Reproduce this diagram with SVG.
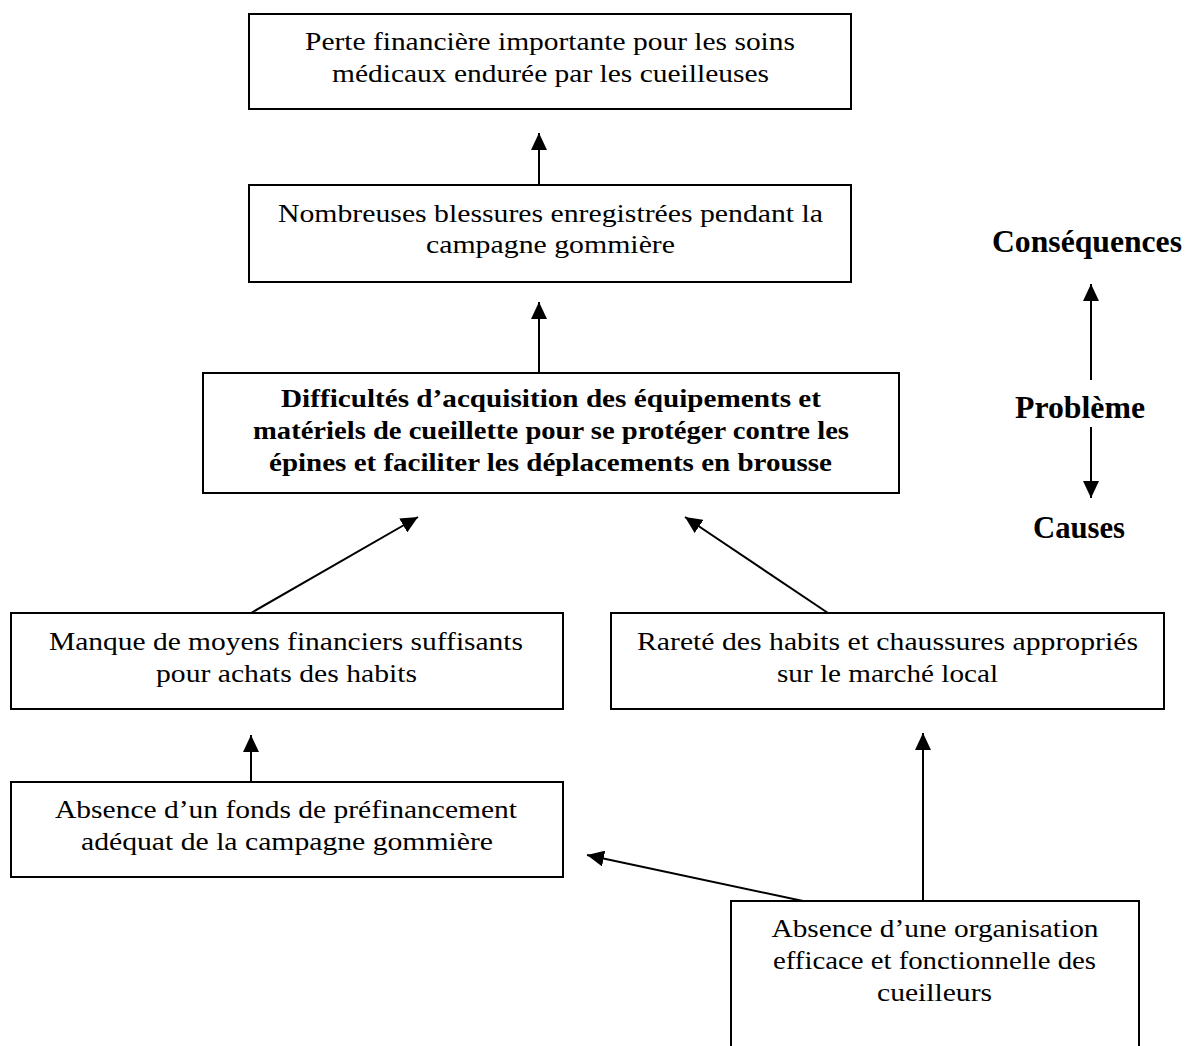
<svg xmlns="http://www.w3.org/2000/svg" width="1185" height="1046" viewBox="0 0 1185 1046">
<defs>
<style>
.box{fill:#fff;stroke:#000;stroke-width:2}
.t{font-family:"Liberation Serif","Times New Roman",serif;font-size:25px;fill:#000;text-anchor:middle}
.b{font-weight:bold}
.lbl{font-family:"Liberation Serif","Times New Roman",serif;font-size:31.5px;font-weight:bold;fill:#000;text-anchor:middle}
.c{stroke:#000;stroke-width:2;fill:none;marker-end:url(#ah)}
</style>
<marker id="ah" markerUnits="userSpaceOnUse" markerWidth="18" markerHeight="16" refX="17" refY="8" orient="auto">
<path d="M0,0 L17,8 L0,16 Z" fill="#000"/>
</marker>
</defs>
<rect width="1185" height="1046" fill="#fff"/>

<g id="connectors">
<line class="c" x1="539" y1="185" x2="539" y2="133"/>
<line class="c" x1="539" y1="373" x2="539" y2="302"/>
<line class="c" x1="251" y1="613" x2="418" y2="517"/>
<line class="c" x1="828" y1="613" x2="685" y2="517"/>
<line class="c" x1="251" y1="782" x2="251" y2="735"/>
<line class="c" x1="803" y1="901" x2="587" y2="855"/>
<line class="c" x1="923" y1="901" x2="923" y2="733"/>
<line class="c" x1="1091" y1="380" x2="1091" y2="284"/>
<line class="c" x1="1091" y1="427" x2="1091" y2="498"/>
</g>

<g id="n1">
<rect class="box" x="249" y="14" width="602" height="95"/>
<text class="t" x="550" y="50" textLength="490" lengthAdjust="spacingAndGlyphs">Perte financière importante pour les soins</text>
<text class="t" x="550.5" y="82" textLength="437" lengthAdjust="spacingAndGlyphs">médicaux endurée par les cueilleuses</text>
</g>

<g id="n2">
<rect class="box" x="249" y="185" width="602" height="97"/>
<text class="t" x="550.5" y="222" textLength="545" lengthAdjust="spacingAndGlyphs">Nombreuses blessures enregistrées pendant la</text>
<text class="t" x="550.5" y="253" textLength="249" lengthAdjust="spacingAndGlyphs">campagne gommière</text>
</g>

<g id="n3">
<rect class="box" x="203" y="373" width="696" height="120"/>
<text class="t b" x="551" y="407" textLength="540" lengthAdjust="spacingAndGlyphs">Difficultés d’acquisition des équipements et</text>
<text class="t b" x="551" y="439" textLength="596" lengthAdjust="spacingAndGlyphs">matériels de cueillette pour se protéger contre les</text>
<text class="t b" x="550.5" y="471" textLength="563" lengthAdjust="spacingAndGlyphs">épines et faciliter les déplacements en brousse</text>
</g>

<g id="n4">
<rect class="box" x="11" y="613" width="552" height="96"/>
<text class="t" x="286" y="650" textLength="474" lengthAdjust="spacingAndGlyphs">Manque de moyens financiers suffisants</text>
<text class="t" x="286.5" y="682" textLength="261" lengthAdjust="spacingAndGlyphs">pour achats des habits</text>
</g>

<g id="n5">
<rect class="box" x="611" y="613" width="553" height="96"/>
<text class="t" x="887.5" y="650" textLength="501" lengthAdjust="spacingAndGlyphs">Rareté des habits et chaussures appropriés</text>
<text class="t" x="887.5" y="682" textLength="221" lengthAdjust="spacingAndGlyphs">sur le marché local</text>
</g>

<g id="n6">
<rect class="box" x="11" y="782" width="552" height="95"/>
<text class="t" x="286" y="818" textLength="462" lengthAdjust="spacingAndGlyphs">Absence d’un fonds de préfinancement</text>
<text class="t" x="287" y="850" textLength="412" lengthAdjust="spacingAndGlyphs">adéquat de la campagne gommière</text>
</g>

<g id="n7">
<rect class="box" x="731" y="901" width="408" height="160"/>
<text class="t" x="935" y="937" textLength="327" lengthAdjust="spacingAndGlyphs">Absence d’une organisation</text>
<text class="t" x="934.5" y="969" textLength="323" lengthAdjust="spacingAndGlyphs">efficace et fonctionnelle des</text>
<text class="t" x="934.5" y="1001" textLength="115" lengthAdjust="spacingAndGlyphs">cueilleurs</text>
</g>

<g id="legend">
<text class="lbl" x="1087" y="252" textLength="190" lengthAdjust="spacingAndGlyphs">Conséquences</text>
<text class="lbl" x="1080" y="418" textLength="130" lengthAdjust="spacingAndGlyphs">Problème</text>
<text class="lbl" x="1079" y="538" textLength="92" lengthAdjust="spacingAndGlyphs">Causes</text>
</g>
</svg>
